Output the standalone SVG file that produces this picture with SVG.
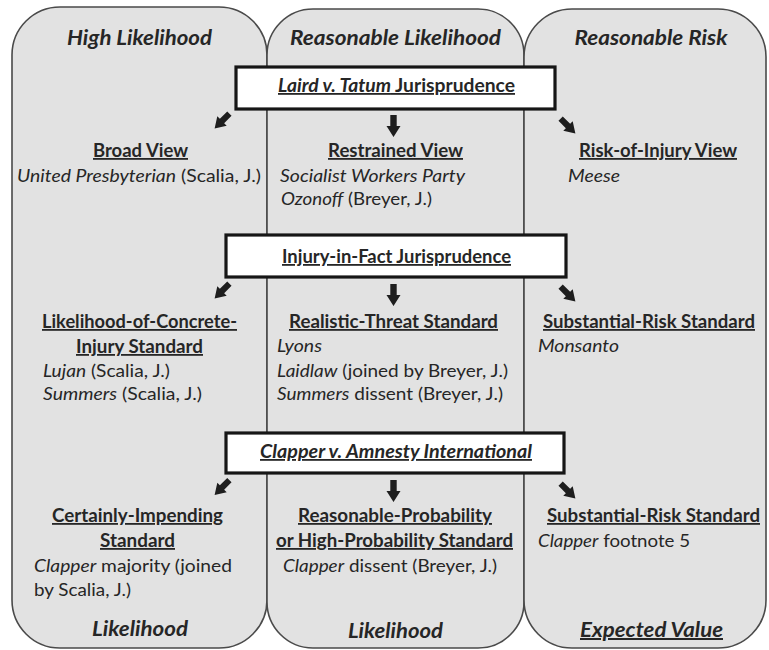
<svg xmlns="http://www.w3.org/2000/svg" xmlns:xlink="http://www.w3.org/1999/xlink" width="769" height="650" viewBox="0 0 769 650">
<defs>
<style>
.panel{fill:#e2e2e2;stroke:#4a4a4a;stroke-width:1.6}
.box{fill:#ffffff;stroke:#161616;stroke-width:3.2}
text{font-family:Lato,"Liberation Sans",sans-serif;fill:#262626;font-size:18px}
.hd{font-size:20px;font-weight:bold;font-style:italic}
.b{font-weight:bold}
.u{text-decoration:underline}
.i{font-style:italic}
.m{text-anchor:middle}
.arw{fill:#1e1e1e}
</style>
<path id="arw" d="M-3.2,-11 H3.2 V0 H7 L0,11 L-7,0 H-3.2 Z"/>
</defs>
<rect width="769" height="650" fill="#ffffff"/>

<g id="panel-high-likelihood">
<rect class="panel" x="12" y="7" width="255" height="641" rx="48" ry="48"/>
<text class="hd m" x="139.5" y="45" textLength="145" lengthAdjust="spacingAndGlyphs">High Likelihood</text>
<text class="hd m" x="140" y="636" textLength="96" lengthAdjust="spacingAndGlyphs">Likelihood</text>
</g>
<g id="panel-reasonable-likelihood">
<rect class="panel" x="267" y="9" width="257" height="639" rx="46" ry="46"/>
<text class="hd m" x="395.5" y="45" textLength="211" lengthAdjust="spacingAndGlyphs">Reasonable Likelihood</text>
<text class="hd m" x="395.5" y="638" textLength="95" lengthAdjust="spacingAndGlyphs">Likelihood</text>
</g>
<g id="panel-reasonable-risk">
<rect class="panel" x="524" y="9" width="242" height="639" rx="48" ry="48"/>
<text class="hd m" x="651" y="45" textLength="153" lengthAdjust="spacingAndGlyphs">Reasonable Risk</text>
<text class="hd m u" x="651.5" y="637" textLength="143" lengthAdjust="spacingAndGlyphs">Expected Value</text>
</g>

<g id="box-laird">
<rect class="box" x="236" y="67" width="319" height="42"/>
<text class="b u m" x="396.5" y="92" textLength="237" lengthAdjust="spacingAndGlyphs"><tspan class="i">Laird v. Tatum</tspan> Jurisprudence</text>
</g>
<g id="box-injury">
<rect class="box" x="226" y="235" width="340" height="42"/>
<text class="b u m" x="396.5" y="263" textLength="229" lengthAdjust="spacingAndGlyphs">Injury-in-Fact Jurisprudence</text>
</g>
<g id="box-clapper">
<rect class="box" x="226" y="433" width="338" height="40"/>
<text class="b u i m" x="396" y="458" textLength="272" lengthAdjust="spacingAndGlyphs">Clapper v. Amnesty International</text>
</g>

<g id="connectors">
<use class="arw" xlink:href="#arw" transform="translate(222,121) rotate(45) scale(0.95)"/>
<use class="arw" xlink:href="#arw" transform="translate(393.5,126)"/>
<use class="arw" xlink:href="#arw" transform="translate(568,126) rotate(-45) scale(0.95)"/>
<use class="arw" xlink:href="#arw" transform="translate(222,291) rotate(45) scale(0.95)"/>
<use class="arw" xlink:href="#arw" transform="translate(393.5,295)"/>
<use class="arw" xlink:href="#arw" transform="translate(568,294) rotate(-45) scale(0.95)"/>
<use class="arw" xlink:href="#arw" transform="translate(222,487.5) rotate(45) scale(0.95)"/>
<use class="arw" xlink:href="#arw" transform="translate(393.5,491)"/>
<use class="arw" xlink:href="#arw" transform="translate(568,491) rotate(-45) scale(0.95)"/>
</g>

<g id="broad-view">
<text class="b u m" x="140.5" y="157" textLength="95" lengthAdjust="spacingAndGlyphs">Broad View</text>
<text class="m" x="139" y="182" textLength="244" lengthAdjust="spacingAndGlyphs"><tspan class="i">United Presbyterian</tspan> (Scalia, J.)</text>
</g>
<g id="restrained-view">
<text class="b u m" x="395.5" y="157" textLength="135" lengthAdjust="spacingAndGlyphs">Restrained View</text>
<text class="i" x="280" y="182" textLength="185" lengthAdjust="spacingAndGlyphs">Socialist Workers Party</text>
<text x="281" y="205" textLength="151" lengthAdjust="spacingAndGlyphs"><tspan class="i">Ozonoff</tspan> (Breyer, J.)</text>
</g>
<g id="risk-of-injury-view">
<text class="b u m" x="658" y="157" textLength="158" lengthAdjust="spacingAndGlyphs">Risk-of-Injury View</text>
<text class="i" x="568" y="182" textLength="52" lengthAdjust="spacingAndGlyphs">Meese</text>
</g>

<g id="likelihood-concrete-injury">
<text class="b u m" x="139.5" y="328" textLength="195" lengthAdjust="spacingAndGlyphs">Likelihood-of-Concrete-</text>
<text class="b u m" x="139.5" y="353" textLength="127" lengthAdjust="spacingAndGlyphs">Injury Standard</text>
<text x="43" y="377" textLength="127" lengthAdjust="spacingAndGlyphs"><tspan class="i">Lujan</tspan> (Scalia, J.)</text>
<text x="43" y="400" textLength="159" lengthAdjust="spacingAndGlyphs"><tspan class="i">Summers</tspan> (Scalia, J.)</text>
</g>
<g id="realistic-threat">
<text class="b u m" x="393.5" y="328" textLength="209" lengthAdjust="spacingAndGlyphs">Realistic-Threat Standard</text>
<text class="i" x="277" y="352" textLength="45" lengthAdjust="spacingAndGlyphs">Lyons</text>
<text x="277" y="377" textLength="231" lengthAdjust="spacingAndGlyphs"><tspan class="i">Laidlaw</tspan> (joined by Breyer, J.)</text>
<text x="277" y="400" textLength="226" lengthAdjust="spacingAndGlyphs"><tspan class="i">Summers</tspan> dissent (Breyer, J.)</text>
</g>
<g id="substantial-risk-1">
<text class="b u m" x="649" y="328" textLength="212" lengthAdjust="spacingAndGlyphs">Substantial-Risk Standard</text>
<text class="i" x="538" y="352" textLength="81" lengthAdjust="spacingAndGlyphs">Monsanto</text>
</g>

<g id="certainly-impending">
<text class="b u m" x="137.5" y="522" textLength="171" lengthAdjust="spacingAndGlyphs">Certainly-Impending</text>
<text class="b u m" x="137.5" y="547" textLength="75" lengthAdjust="spacingAndGlyphs">Standard</text>
<text x="34" y="572" textLength="198" lengthAdjust="spacingAndGlyphs"><tspan class="i">Clapper</tspan> majority (joined</text>
<text x="34" y="596" textLength="97" lengthAdjust="spacingAndGlyphs">by Scalia, J.)</text>
</g>
<g id="reasonable-probability">
<text class="b u m" x="395" y="522" textLength="194" lengthAdjust="spacingAndGlyphs">Reasonable-Probability</text>
<text class="b u m" x="394.5" y="547" textLength="237" lengthAdjust="spacingAndGlyphs">or High-Probability Standard</text>
<text x="283" y="572" textLength="214" lengthAdjust="spacingAndGlyphs"><tspan class="i">Clapper</tspan> dissent (Breyer, J.)</text>
</g>
<g id="substantial-risk-2">
<text class="b u m" x="653.5" y="522" textLength="213" lengthAdjust="spacingAndGlyphs">Substantial-Risk Standard</text>
<text x="538" y="547" textLength="152" lengthAdjust="spacingAndGlyphs"><tspan class="i">Clapper</tspan> footnote 5</text>
</g>
</svg>
